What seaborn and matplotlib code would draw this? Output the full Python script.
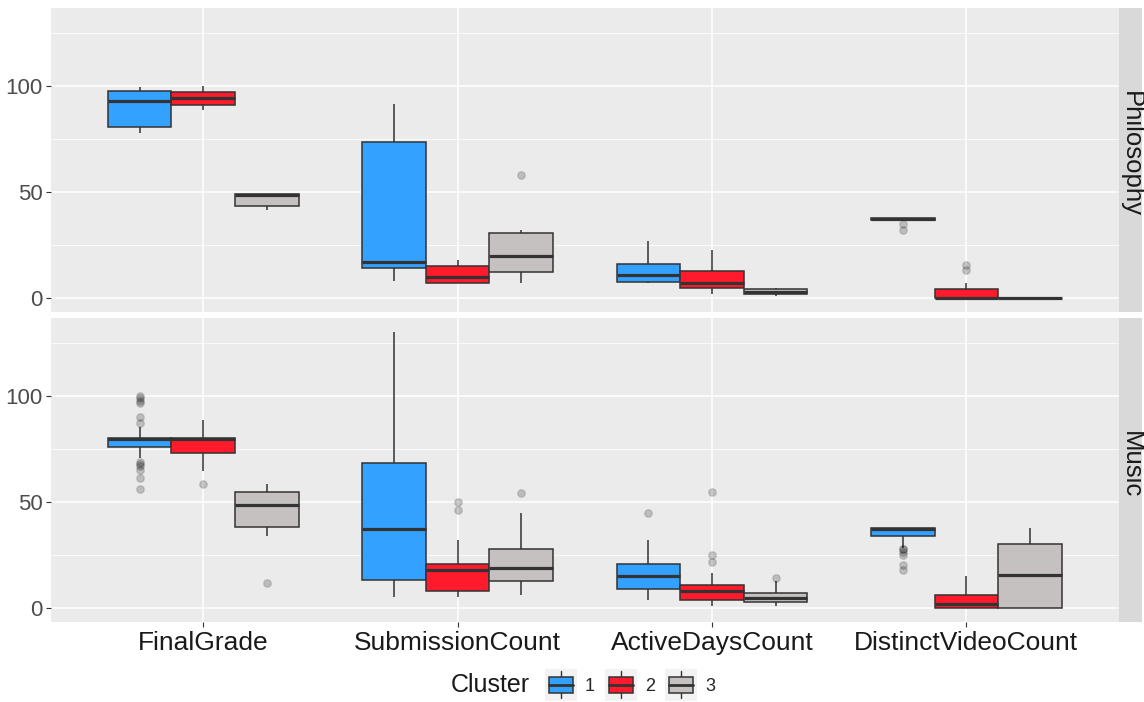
import pandas as pd
import matplotlib
matplotlib.use("Agg")
import matplotlib.pyplot as plt
import seaborn as sns
from matplotlib.legend_handler import HandlerBase
from matplotlib.patches import Rectangle, Patch
from matplotlib.lines import Line2D

features = ["FinalGrade", "SubmissionCount", "ActiveDaysCount", "DistinctVideoCount"]
courses = ["Philosophy", "Music"]
clusters = ["1", "2", "3"]
cluster_colors = ["#33A1FF", "#FF1A2C", "#C5C1C0"]

phil_grade = [
    [77.9, 81.0, 93.2, 97.8, 99.8],
    [88.7, 91.4, 94.3, 97.2, 100.0],
    [41.8, 43.6, 48.8, 49.1, 49.1],
]
phil_submissions = [
    [8.0, 14.0, 17.0, 73.9, 91.8],
    [6.9, 6.9, 10.0, 14.9, 17.9],
    [6.9, 10.0, 12.4, 16.0, 19.9, 25.0, 30.5, 31.9, 58.1],
]
phil_active_days = [
    [7.1, 7.8, 11.0, 16.0, 27.0],
    [2.0, 4.9, 7.1, 13.0, 22.9],
    [0.9, 2.0, 3.0, 4.1, 4.9],
]
phil_videos = [
    [32.2, 35.0, 36.8, 37.0, 37.3, 37.6, 37.9, 37.9, 37.9],
    [0, 0, 0, 0, 0, 0, 0, 2.0, 3.0, 4.1, 6.9, 13.3, 15.4],
    [0, 0, 0, 0, 0],
]

music_grade = [
    [56.4, 61.5, 65.1, 67.0, 67.9, 68.9, 70.9,
     76.1, 77.0, 78.0, 78.5, 79.0, 79.5, 79.8,
     80.0, 80.1, 80.2, 80.3, 80.4, 80.5, 80.5,
     80.5, 85.5, 87.4, 90.1, 96.8, 98.0, 99.0, 100.0],
    [58.8, 64.9, 73.4, 77.0, 79.9, 80.0, 80.2, 84.0, 88.8],
    [11.8, 33.8, 38.4, 44.0, 48.9, 52.0, 55.0, 56.5, 58.5],
]
music_submissions = [
    [5.2, 13.2, 37.1, 68.7, 130.3],
    [5.2, 6.0, 7.0, 7.9, 12.0, 15.0, 17.9, 19.0, 20.0, 20.9, 31.9, 46.1, 50.0],
    [6.1, 9.0, 12.6, 16.0, 19.0, 24.0, 28.1, 45.0, 54.1],
]
music_active_days = [
    [3.9, 6.0, 9.1, 12.0, 14.9, 18.0, 20.9, 31.9, 45.0],
    [0.9, 2.0, 3.0, 3.5, 3.8, 5.0, 6.0, 7.0, 7.9, 9.0, 10.0, 10.5, 10.8,
     16.7, 21.9, 25.0, 55.0],
    [0.9, 2.0, 2.8, 3.5, 4.6, 6.0, 6.9, 12.7, 14.0],
]
music_videos = [
    [17.9, 20.1, 25.2, 26.6, 27.8, 27.8, 28.5,
     33.8, 34.5, 35.0, 35.5, 36.0, 36.5, 37.0,
     37.1, 37.2, 37.3, 37.4, 37.5, 37.6, 37.6,
     37.6, 37.6, 37.6, 37.6, 37.6, 37.6, 37.6, 37.6],
    [0, 0, 1.7, 6.0, 14.9],
    [0, 0, 15.4, 30.2, 37.7],
]

course_data = {
    "Philosophy": [phil_grade, phil_submissions, phil_active_days, phil_videos],
    "Music": [music_grade, music_submissions, music_active_days, music_videos],
}

rows = []
for course in courses:
    for feature, groups in zip(features, course_data[course]):
        for cl, values in zip(clusters, groups):
            for v in values:
                rows.append({"course": course, "feature": feature, "cluster": cl, "value": v})
df = pd.DataFrame(rows)

sns.set_style("darkgrid")
plt.rcParams["font.family"] = ["Liberation Sans", "DejaVu Sans"]

fig = plt.figure(figsize=(11.44, 7.02), dpi=100)
W, H = 1144, 702
panel_left, panel_right = 50.5, 1119
panels = [(8, 312), (318, 622)]

palette = dict(zip(clusters, cluster_colors))

for i, (course, (top, bottom)) in enumerate(zip(courses, panels)):
    ax = fig.add_axes([panel_left / W, 1 - bottom / H,
                       (panel_right - panel_left) / W, (bottom - top) / H])
    ax.set_facecolor("#EBEBEB")
    sns.boxplot(
        data=df[df["course"] == course], x="feature", y="value", hue="cluster",
        order=features, hue_order=clusters, palette=palette, saturation=1,
        width=0.75, gap=0, linewidth=1.1, linecolor="#333333",
        showcaps=False, legend=False, ax=ax,
        medianprops=dict(linewidth=2.3, color="#333333"),
        flierprops=dict(marker="o", markersize=5.5,
                        markerfacecolor=(0, 0, 0, 0.2),
                        markeredgecolor=(0, 0, 0, 0.12)),
    )
    ax.set_xlim(-0.6, 3.6)
    ax.set_ylim(-6.6, 137)
    ax.set_yticks([0, 50, 100])
    ax.set_yticks([25, 75, 125], minor=True)
    ax.grid(True, which="major", color="white", linewidth=1.1)
    ax.grid(True, which="minor", axis="y", color="white", linewidth=0.55)
    ax.set_axisbelow(True)
    for s in ax.spines.values():
        s.set_visible(False)
    ax.set_xlabel("")
    ax.set_ylabel("")
    ax.tick_params(axis="y", which="major", left=True, length=3.5, width=0.8,
                   color="#333333", labelsize=16, labelcolor="#4D4D4D", pad=2)
    ax.tick_params(axis="y", which="minor", left=False)
    if i == 0:
        ax.tick_params(axis="x", bottom=False, labelbottom=False)
    else:
        ax.tick_params(axis="x", bottom=True, length=3.5, width=0.8,
                       color="#333333", labelsize=19, labelcolor="#1A1A1A", pad=3)

    # facet strip on the right
    fig.patches.append(Rectangle((panel_right / W, 1 - bottom / H), (1142 - panel_right) / W,
                                 (bottom - top) / H, transform=fig.transFigure,
                                 facecolor="#D9D9D9", edgecolor="none"))
    fig.text((panel_right + 1142) / 2 / W, 1 - (top + bottom) / 2 / H + 0.008, course,
             rotation=270, ha="center", va="center", fontsize=18.5, color="#1A1A1A")


class BoxKey(HandlerBase):
    # square key with a small boxplot glyph, like ggplot's legend keys
    def create_artists(self, legend, orig_handle, xdescent, ydescent, width, height, fontsize, trans):
        x0 = -xdescent
        side = width
        yc = -ydescent + height / 2
        y0 = yc - side / 2
        bg = Rectangle((x0, y0), side, side, facecolor="#F2F2F2", edgecolor="none", transform=trans)
        whisk = Line2D([x0 + side / 2] * 2, [y0 + 0.08 * side, y0 + 0.92 * side],
                       color="#333333", linewidth=1.0, transform=trans)
        box = Rectangle((x0 + 0.12 * side, y0 + 0.24 * side), 0.76 * side, 0.52 * side,
                        facecolor=orig_handle.get_facecolor(), edgecolor="#333333",
                        linewidth=1.1, transform=trans)
        med = Line2D([x0 + 0.12 * side, x0 + 0.88 * side], [yc] * 2,
                     color="#333333", linewidth=2.0, transform=trans)
        return [bg, whisk, box, med]


handles = [Patch(facecolor=c) for c in cluster_colors]
fig.text(451 / W, 1 - 685 / H, "Cluster", fontsize=18, color="#1A1A1A", va="center", ha="left")
fig.legend(handles, clusters, handler_map={Patch: BoxKey()},
           loc="center left", bbox_to_anchor=(545 / W, 1 - 685 / H),
           ncol=3, frameon=False, fontsize=13, handlelength=1.77, handleheight=1.3,
           handletextpad=0.45, columnspacing=0.55, borderpad=0, borderaxespad=0)

fig.savefig("out.png", dpi=100)
